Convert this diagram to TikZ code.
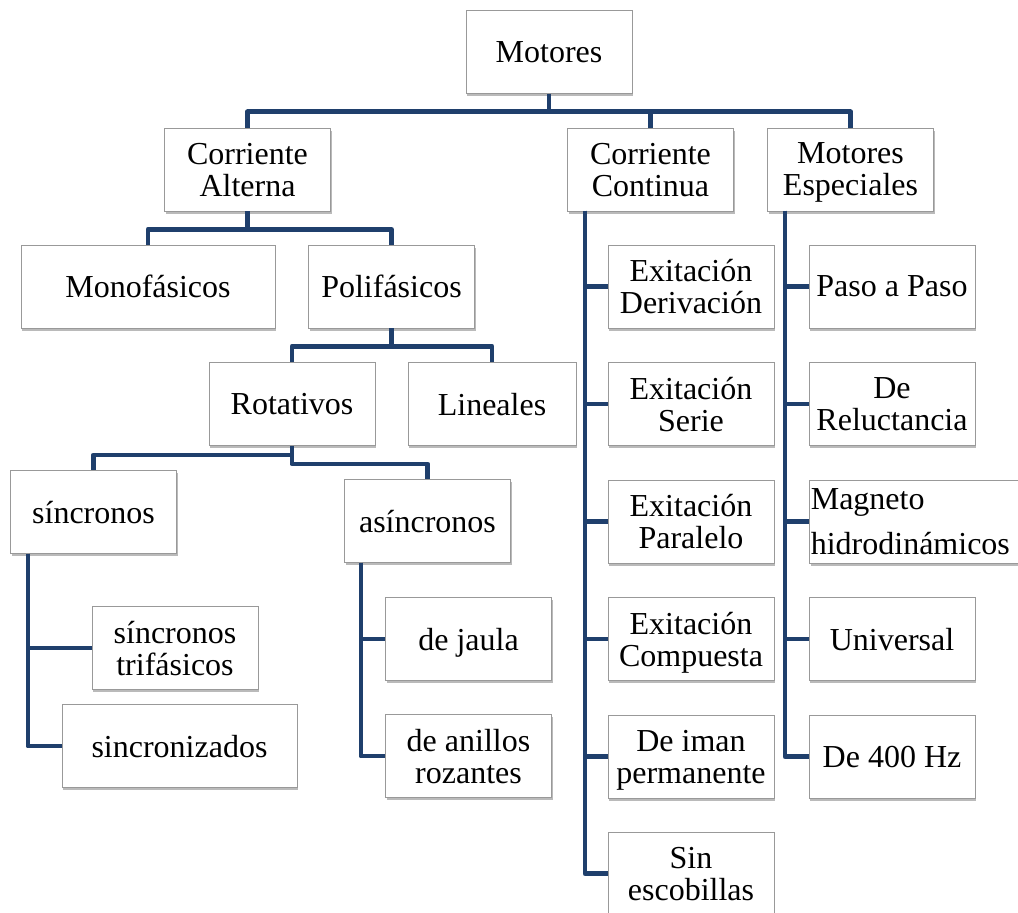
\documentclass[tikz,border=0pt]{standalone}
\usepackage{fontspec}
\setmainfont{Liberation Serif}
\usetikzlibrary{shadows}
\definecolor{azul}{RGB}{31,63,108}
\begin{document}
\begin{tikzpicture}[x=0.75pt,y=-0.75pt,
  caja/.style={draw=black!40, fill=white, line width=0.7pt, minimum width=124.5pt, minimum height=62.25pt,
    align=center, inner sep=1pt, text depth=0pt, font=\fontsize{24}{24}\selectfont,
    drop shadow={shadow xshift=0.8pt, shadow yshift=-2pt, fill=black!45, opacity=0.6}},
  linea/.style={draw=azul, line width=3.7pt, line join=round}]
\path[use as bounding box] (0,0) rectangle (1018,913);
\clip (0,0) rectangle (1018,913);

\node[caja] (mot) at (549,52) {Motores};
\node[caja] (ca) at (247.5,169.5) {Corriente\\Alterna};
\node[caja] (cc) at (650.5,169.5) {Corriente\\Continua};
\node[caja] (me) at (850.5,169.5) {Motores\\Especiales};

\node[caja,minimum width=190.5pt] (mono) at (148,286.5) {Monofásicos};
\node[caja] (poli) at (391.5,286.5) {Polifásicos};
\node[caja] (rot) at (292,404) {Rotativos};
\node[caja,minimum width=126pt] (lin) at (492,404) {Lineales};
\node[caja] (sin) at (93.5,512) {síncronos};
\node[caja] (asin) at (427.5,521) {asíncronos};
\node[caja] (sintri) at (175,648) {síncronos\\trifásicos};
\node[caja,minimum width=176.25pt] (sinz) at (179.5,746) {sincronizados};
\node[caja] (jaula) at (468.5,639) {de jaula};
\node[caja] (anillos) at (468.5,756) {de anillos\\rozantes};

% corriente continua
\node[caja] (ed) at (691,286.5) {Exitación\\Derivación};
\node[caja] (es) at (691,404) {Exitación\\Serie};
\node[caja] (ep) at (691,521.5) {Exitación\\Paralelo};
\node[caja] (ec) at (691,639) {Exitación\\Compuesta};
\node[caja] (ei) at (691,756.5) {De iman\\permanente};
\node[caja] (eb) at (691,873.5) {Sin\\escobillas};

% motores especiales
\node[caja] (pp) at (892,286.5) {Paso a Paso};
\node[caja] (rel) at (892,404) {De\\Reluctancia};
\node[caja,anchor=west,align=left,text width=163pt,text depth=] (mag) at (809,521.5) {Magneto\\[9.75pt]hidrodinámicos};
\node[caja] (uni) at (892,639) {Universal};
\node[caja] (hz) at (892,756.5) {De 400 Hz};

\draw[linea] (mot.south) -- ++(0,18) -| (ca.north);
\draw[linea] (mot.south) -- ++(0,18) -| (cc.north);
\draw[linea] (mot.south) -- ++(0,18) -| (me.north);
\draw[linea] (ca.south) -- ++(0,18) -| (mono.north);
\draw[linea] (ca.south) -- ++(0,18) -| (poli.north);
\draw[linea] (poli.south) -- ++(0,18) -| (rot.north);
\draw[linea] (poli.south) -- ++(0,18) -| (lin.north);
\draw[linea] (rot.south) -- ++(0,9) -| (sin.north);
\draw[linea] (rot.south) -- ++(0,18) -| (asin.north);

\coordinate (sinv) at (28,553.5);
\coordinate (asinv) at (361,562.5);
\coordinate (ccv) at (585,211);
\coordinate (mev) at (785,211);
\foreach \n in {sintri,sinz} \draw[linea] (sinv) |- (\n.west);
\foreach \n in {jaula,anillos} \draw[linea] (asinv) |- (\n.west);
\foreach \n in {ed,es,ep,ec,ei,eb} \draw[linea] (ccv) |- (\n.west);
\foreach \n in {pp,rel,mag,uni,hz} \draw[linea] (mev) |- (\n.west);
\end{tikzpicture}
\end{document}
